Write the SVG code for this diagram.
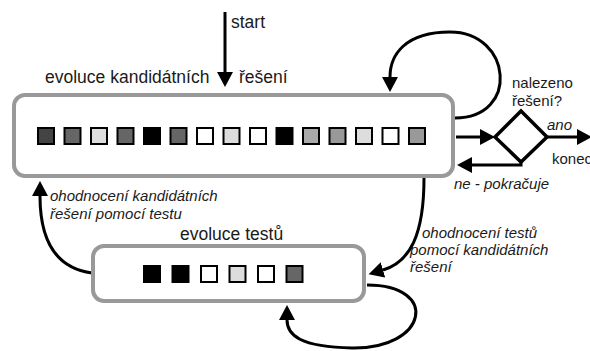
<svg xmlns="http://www.w3.org/2000/svg" width="590" height="351" viewBox="0 0 590 351">
<style>
.box{fill:#fff;stroke:#999;stroke-width:4}
.sq{stroke:#000;stroke-width:2}
.t{font-family:"Liberation Sans",Arial,sans-serif;font-size:17.5px;fill:#1a1a1a}
.l{font-family:"Liberation Sans",Arial,sans-serif;font-size:15px;fill:#1a1a1a}
.i{font-style:italic}
.c{fill:none;stroke:#000;stroke-width:3}
</style>
<defs>
<marker id="ah" markerUnits="userSpaceOnUse" markerWidth="16" markerHeight="16" refX="0" refY="8" orient="auto">
<path d="M0,0 L15,8 L0,16 z" fill="#000"/>
</marker>
</defs>
<g id="connectors">
<path class="c" d="M225,12 L225,72" marker-end="url(#ah)"/>
<path class="c" d="M455,118 C520,118 512,32 450,32 C405,32 390,55 390,77" marker-end="url(#ah)"/>
<path class="c" d="M456,137 L480,137" marker-end="url(#ah)"/>
<path class="c" d="M547,137 L577,137" marker-end="url(#ah)"/>
<path class="c" d="M521,162 L521,165 L472,165" marker-end="url(#ah)"/>
<path class="c" d="M424,178 C424,235 410,262 383,270" marker-end="url(#ah)"/>
<path class="c" d="M92,273 C55,268 40,240 40,196" marker-end="url(#ah)"/>
<path class="c" d="M367,285 C440,285 428,349 352,348 C300,347 287,335 287,320" marker-end="url(#ah)"/>
</g>
<g id="candidates">
<rect class="box" x="14" y="95" width="439" height="81" rx="11"/>
<rect class="sq" x="38" y="128" width="16" height="16" fill="#444"/>
<rect class="sq" x="64.5" y="128" width="16" height="16" fill="#666"/>
<rect class="sq" x="91" y="128" width="16" height="16" fill="#ddd"/>
<rect class="sq" x="117.5" y="128" width="16" height="16" fill="#666"/>
<rect class="sq" x="144" y="128" width="16" height="16" fill="#000"/>
<rect class="sq" x="170.5" y="128" width="16" height="16" fill="#666"/>
<rect class="sq" x="197" y="128" width="16" height="16" fill="#fff"/>
<rect class="sq" x="223.5" y="128" width="16" height="16" fill="#ddd"/>
<rect class="sq" x="250" y="128" width="16" height="16" fill="#fff"/>
<rect class="sq" x="276.5" y="128" width="16" height="16" fill="#000"/>
<rect class="sq" x="303" y="128" width="16" height="16" fill="#aaa"/>
<rect class="sq" x="329.5" y="128" width="16" height="16" fill="#999"/>
<rect class="sq" x="356" y="128" width="16" height="16" fill="#ddd"/>
<rect class="sq" x="382.5" y="128" width="16" height="16" fill="#fff"/>
<rect class="sq" x="409" y="128" width="16" height="16" fill="#999"/>
<text class="t" x="45" y="83">evoluce kandidátních</text>
<text class="t" x="239" y="83">řešení</text>
</g>
<g id="tests">
<rect class="box" x="93" y="246" width="271" height="55" rx="11"/>
<rect class="sq" x="144" y="266" width="16" height="16" fill="#000"/>
<rect class="sq" x="172.5" y="266" width="16" height="16" fill="#000"/>
<rect class="sq" x="201" y="266" width="16" height="16" fill="#fff"/>
<rect class="sq" x="229.5" y="266" width="16" height="16" fill="#ddd"/>
<rect class="sq" x="258" y="266" width="16" height="16" fill="#fff"/>
<rect class="sq" x="286.5" y="266" width="16" height="16" fill="#666"/>
<text class="t" x="180" y="240">evoluce testů</text>
</g>
<g id="decision">
<polygon points="495,137 521,111 547,137 521,162" fill="#fff" stroke="#000" stroke-width="3.5" stroke-linejoin="miter"/>
<text class="l" x="512" y="88">nalezeno</text>
<text class="l" x="512" y="106">řešení?</text>
</g>
<g id="labels">
<text class="t" x="231" y="28">start</text>
<text class="l i" x="547" y="130">ano</text>
<text class="l" x="552" y="164">konec</text>
<text class="l i" x="454" y="189">ne - pokračuje</text>
<text class="l i" x="50" y="201">ohodnocení kandidátních</text>
<text class="l i" x="50" y="219">řešení pomocí testu</text>
<text class="l i" x="422" y="238">ohodnocení testů</text>
<text class="l i" x="410" y="255">pomocí kandidátních</text>
<text class="l i" x="410" y="272">řešení</text>
</g>
</svg>
